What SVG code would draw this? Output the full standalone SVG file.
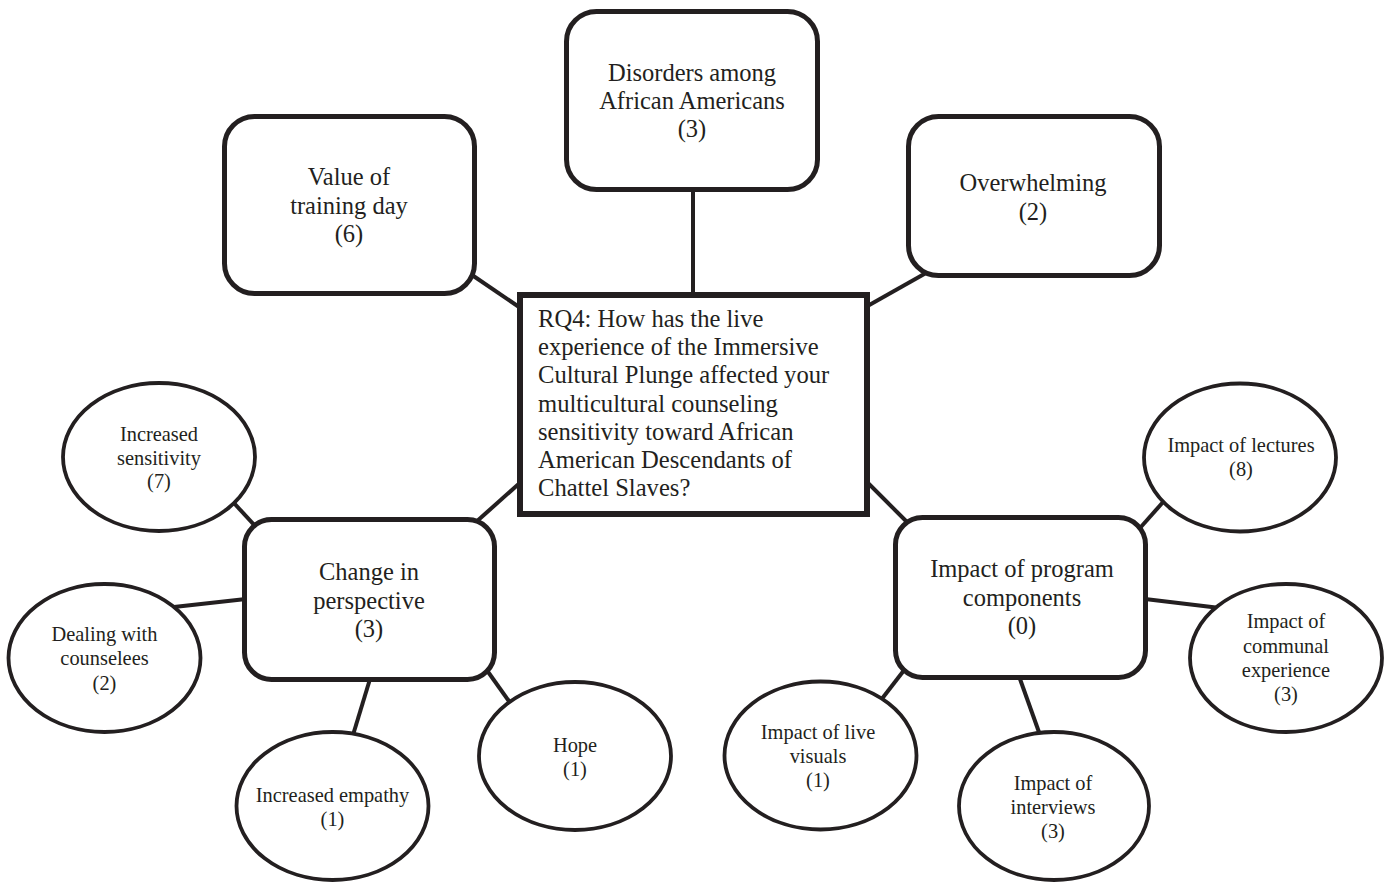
<svg xmlns="http://www.w3.org/2000/svg" width="1392" height="882" viewBox="0 0 1392 882">
<style>
.bg{fill:#ffffff}
.conn line{stroke:#231f20;stroke-width:4;fill:none}
.box{fill:#ffffff;stroke:#231f20;stroke-width:5}
.central{fill:#ffffff;stroke:#231f20;stroke-width:6}
.oval{fill:#ffffff;stroke:#231f20;stroke-width:3.8}
text{font-family:"Liberation Serif","Times New Roman",serif;fill:#231f20}
.bt{font-size:24.5px;text-anchor:middle}
.et{font-size:20.4px;text-anchor:middle}
.ct{font-size:24.6px}
</style>
<rect class="bg" x="0" y="0" width="1392" height="882"/>
<g id="connectors" class="conn">
<line x1="693" y1="190" x2="693" y2="296"/>
<line x1="472" y1="275" x2="522" y2="309"/>
<line x1="926" y1="273" x2="864" y2="308"/>
<line x1="476" y1="522" x2="522" y2="481"/>
<line x1="865" y1="480" x2="908" y2="523"/>
<line x1="233" y1="502" x2="256" y2="527"/>
<line x1="174" y1="607" x2="246" y2="599"/>
<line x1="353" y1="735" x2="370" y2="679"/>
<line x1="486" y1="669" x2="511" y2="704"/>
<line x1="1164" y1="501" x2="1140" y2="528"/>
<line x1="1145" y1="599" x2="1220" y2="608"/>
<line x1="1020" y1="679" x2="1040" y2="735"/>
<line x1="905" y1="669" x2="881" y2="700"/>
</g>
<g id="central">
<rect class="central" x="520" y="295" width="347" height="219"/>
<text class="ct" x="538" y="327">RQ4: How has the live</text>
<text class="ct" x="538" y="355">experience of the Immersive</text>
<text class="ct" x="538" y="383">Cultural Plunge affected your</text>
<text class="ct" x="538" y="411.5">multicultural counseling</text>
<text class="ct" x="538" y="440">sensitivity toward African</text>
<text class="ct" x="538" y="468">American Descendants of</text>
<text class="ct" x="538" y="496">Chattel Slaves?</text>
</g>
<g id="disorders">
<rect class="box" x="566.5" y="11.5" width="251" height="178" rx="30"/>
<text class="bt" x="692" y="81">Disorders among</text>
<text class="bt" x="692" y="109">African Americans</text>
<text class="bt" x="692" y="137">(3)</text>
</g>
<g id="value">
<rect class="box" x="224.5" y="116.5" width="250" height="177" rx="30"/>
<text class="bt" x="349" y="185">Value of</text>
<text class="bt" x="349" y="213.5">training day</text>
<text class="bt" x="349" y="242">(6)</text>
</g>
<g id="overwhelming">
<rect class="box" x="908.5" y="116.5" width="251" height="159" rx="30"/>
<text class="bt" x="1033" y="191">Overwhelming</text>
<text class="bt" x="1033" y="220">(2)</text>
</g>
<g id="change">
<rect class="box" x="244.5" y="519.5" width="250" height="160" rx="27"/>
<text class="bt" x="369" y="580">Change in</text>
<text class="bt" x="369" y="608.5">perspective</text>
<text class="bt" x="369" y="637">(3)</text>
</g>
<g id="impact">
<rect class="box" x="895.5" y="517.5" width="250" height="160" rx="27"/>
<text class="bt" x="1022" y="577">Impact of program</text>
<text class="bt" x="1022" y="605.5">components</text>
<text class="bt" x="1022" y="634">(0)</text>
</g>
<g id="sensitivity">
<ellipse class="oval" cx="159" cy="457" rx="96" ry="74"/>
<text class="et" x="159" y="441">Increased</text>
<text class="et" x="159" y="464.5">sensitivity</text>
<text class="et" x="159" y="488">(7)</text>
</g>
<g id="dealing">
<ellipse class="oval" cx="104.5" cy="658" rx="96" ry="74"/>
<text class="et" x="104.5" y="641">Dealing with</text>
<text class="et" x="104.5" y="665">counselees</text>
<text class="et" x="104.5" y="689.5">(2)</text>
</g>
<g id="empathy">
<ellipse class="oval" cx="332.5" cy="806" rx="96" ry="74"/>
<text class="et" x="332.5" y="802">Increased empathy</text>
<text class="et" x="332.5" y="826">(1)</text>
</g>
<g id="hope">
<ellipse class="oval" cx="575" cy="756" rx="96" ry="74"/>
<text class="et" x="575" y="752">Hope</text>
<text class="et" x="575" y="776">(1)</text>
</g>
<g id="lectures">
<ellipse class="oval" cx="1240" cy="457.5" rx="96" ry="74"/>
<text class="et" x="1241" y="452">Impact of lectures</text>
<text class="et" x="1241" y="476">(8)</text>
</g>
<g id="communal">
<ellipse class="oval" cx="1286" cy="658" rx="96" ry="74"/>
<text class="et" x="1286" y="628">Impact of</text>
<text class="et" x="1286" y="652.5">communal</text>
<text class="et" x="1286" y="676.5">experience</text>
<text class="et" x="1286" y="701">(3)</text>
</g>
<g id="interviews">
<ellipse class="oval" cx="1054" cy="806" rx="95" ry="74"/>
<text class="et" x="1053" y="790">Impact of</text>
<text class="et" x="1053" y="814">interviews</text>
<text class="et" x="1053" y="838">(3)</text>
</g>
<g id="visuals">
<ellipse class="oval" cx="820.5" cy="755.5" rx="96" ry="74"/>
<text class="et" x="818" y="739">Impact of live</text>
<text class="et" x="818" y="762.5">visuals</text>
<text class="et" x="818" y="787">(1)</text>
</g>
</svg>
